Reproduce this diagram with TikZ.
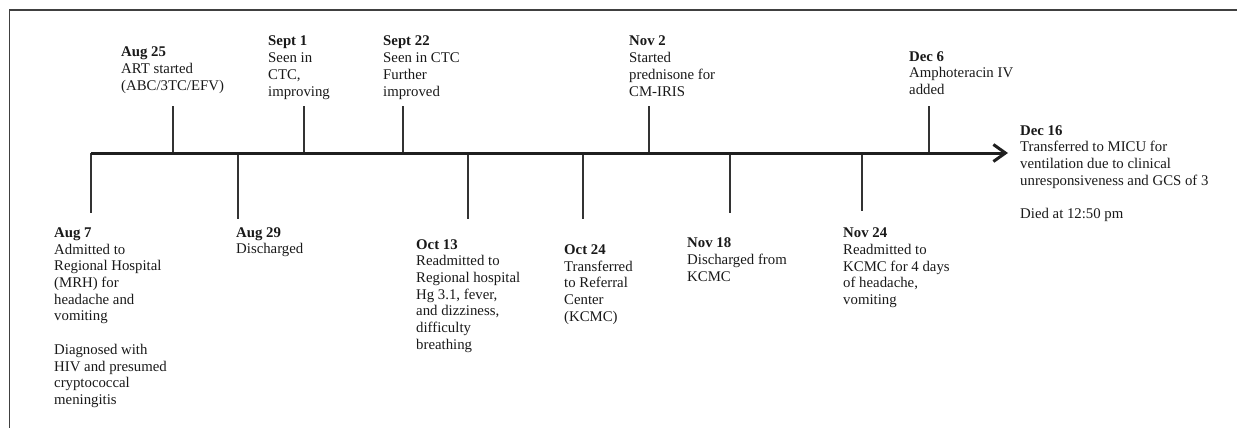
\documentclass[tikz,border=0pt]{standalone}
\usepackage{fontspec}
\setmainfont{Liberation Serif}
\usetikzlibrary{arrows.meta}
\begin{document}
\begin{tikzpicture}[x=1pt,y=-1pt,
  ev/.style={anchor=base west, inner sep=0pt, align=left, font=\fontsize{14.8}{16.7}\selectfont, text=black!90},
  tickline/.style={line width=1.2pt, draw=black!80},
  axisline/.style={line width=3pt, draw=black!88, -{Straight Barb[length=12pt,width=17pt,line width=3pt]}},
  frameline/.style={line width=1.6pt, draw=black!75}]
\useasboundingbox (0,0) rectangle (1237,428);
\draw[frameline] (9.5,428) -- (9.5,10) -- (1237,10);
% axis
\coordinate (start) at (91,153);
\coordinate (end) at (1008,153);
% tick coordinates
\coordinate (a07) at (91,153);  \coordinate (e07) at (91,213);
\coordinate (a25) at (173,153); \coordinate (e25) at (173,106);
\coordinate (a29) at (238,153); \coordinate (e29) at (238,219);
\coordinate (s01) at (304,153); \coordinate (f01) at (304,106);
\coordinate (s22) at (403,153); \coordinate (f22) at (403,106);
\coordinate (o13) at (468,153); \coordinate (p13) at (468,219);
\coordinate (o24) at (583,153); \coordinate (p24) at (583,219);
\coordinate (n02) at (649,153); \coordinate (m02) at (649,106);
\coordinate (n18) at (730,153); \coordinate (m18) at (730,213);
\coordinate (n24) at (862,153); \coordinate (m24) at (862,211);
\coordinate (d06) at (929,153); \coordinate (c06) at (929,106);
\foreach \p/\q in {a07/e07,a25/e25,a29/e29,s01/f01,s22/f22,o13/p13,o24/p24,n02/m02,n18/m18,n24/m24,d06/c06}
  \draw[tickline] (\p) -- (\q);
\draw[axisline] (start) -- (end);
% labels above (anchored at the baseline of their last line)
\node[ev] (aug25) at (121,90.4) {\textbf{Aug 25}\\ART started\\(ABC/3TC/EFV)};
\node[ev] (sep1) at (268,96.1) {\textbf{Sept 1}\\Seen in\\CTC,\\improving};
\node[ev] (sep22) at (383,96.1) {\textbf{Sept 22}\\Seen in CTC\\Further\\improved};
\node[ev] (nov2) at (629,96.1) {\textbf{Nov 2}\\Started\\prednisone for\\CM-IRIS};
\node[ev] (dec6) at (909,94.4) {\textbf{Dec 6}\\Amphoteracin IV\\added};
\node[ev] (dec16) at (1020,218.5) {\textbf{Dec 16}\\Transferred to MICU for\\ventilation due to clinical\\unresponsiveness and GCS of 3\\[16.7pt]Died at 12:50 pm};
% labels below
\node[ev] (aug7) at (54,404.4) {\textbf{Aug 7}\\Admitted to\\Regional Hospital\\(MRH) for\\headache and\\vomiting\\[16.7pt]Diagnosed with\\HIV and presumed\\cryptococcal\\meningitis};
\node[ev] (aug29) at (236,253.7) {\textbf{Aug 29}\\Discharged};
\node[ev] (oct13) at (416,349.2) {\textbf{Oct 13}\\Readmitted to\\Regional hospital\\Hg 3.1, fever,\\and dizziness,\\difficulty\\breathing};
\node[ev] (oct24) at (564,321.1) {\textbf{Oct 24}\\Transferred\\to Referral\\Center\\(KCMC)};
\node[ev] (nov18) at (687,281.1) {\textbf{Nov 18}\\Discharged from\\KCMC};
\node[ev] (nov24) at (843,304.5) {\textbf{Nov 24}\\Readmitted to\\KCMC for 4 days\\of headache,\\vomiting};
\end{tikzpicture}
\end{document}
